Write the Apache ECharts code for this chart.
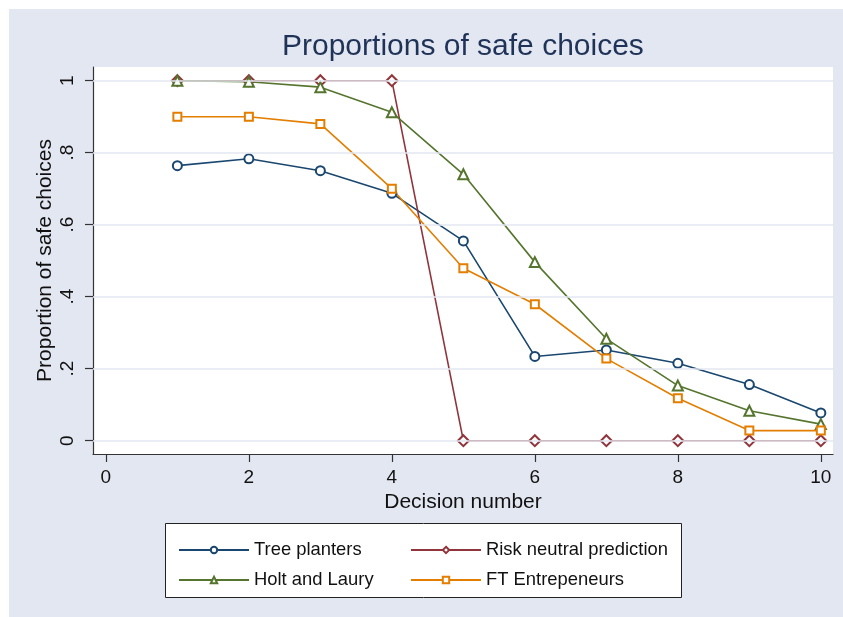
<!DOCTYPE html>
<html><head><meta charset="utf-8">
<script src="https://cdn.jsdelivr.net/npm/echarts@6/dist/echarts.min.js"></script>
<style>html,body{margin:0;padding:0;background:#fff}#c{width:843px;height:617px}</style>
</head><body><div id="c"></div>
<script>
const decisions = [1,2,3,4,5,6,7,8,9,10];
const treePlanters = [0.764,0.783,0.750,0.687,0.555,0.234,0.252,0.215,0.156,0.077];
const riskNeutral = [1,1,1,1,0,0,0,0,0,0];
const holtLaury = [1.0,0.997,0.982,0.912,0.740,0.496,0.283,0.153,0.083,0.046];
const ftEntrepreneurs = [0.90,0.90,0.88,0.70,0.479,0.379,0.228,0.118,0.028,0.028];
const xTicks = [0,2,4,6,8,10];
const yTicks = [0,0.2,0.4,0.6,0.8,1];

const font = '"Liberation Sans", Arial, sans-serif';
const bg = '#e3e7f1';
const pair = arr => decisions.map((d,i)=>[d,arr[i]]);

const chart = echarts.init(document.getElementById('c'), null, {renderer:'canvas'});
function mk(name, data, color, symbol, size){
  return {name, type:'line', data:pair(data), z:3, symbol, symbolSize:size,
    lineStyle:{color, width:1.6}, itemStyle:{color, borderColor:color, borderWidth:1.5},
    showSymbol:true, emphasis:{disabled:true}, animation:false};
}
chart.setOption({
  animation:false,
  backgroundColor:'#fff',
  graphic:[
    {type:'rect', z:-10, shape:{x:9,y:9,width:834,height:608}, style:{fill:bg}},
    {type:'rect', z:-5, shape:{x:165.5,y:523.5,width:516,height:74}, style:{fill:'#fff', stroke:'#222', lineWidth:1}}
  ],
  title:{text:'Proportions of safe choices', left:277, top:27,
    textStyle:{fontFamily:font, fontSize:30, fontWeight:'normal', color:'#1f3358'}},
  grid:{left:93, right:10, top:67, bottom:163, show:true, backgroundColor:'#fff', borderWidth:0},
  xAxis:{type:'value', min:-0.18, max:10.17,
    name:'Decision number', nameLocation:'middle', nameGap:29,
    nameTextStyle:{fontFamily:font, fontSize:21, color:'#111'},
    axisLine:{onZero:false, lineStyle:{color:'#333', width:1.2}},
    axisTick:{customValues:xTicks, length:8, lineStyle:{color:'#333', width:1.2}},
    axisLabel:{customValues:xTicks, fontFamily:font, fontSize:19, color:'#111', margin:14},
    splitLine:{show:false}},
  yAxis:{type:'value', min:-0.037, max:1.038,
    name:'Proportion of safe choices', nameLocation:'middle', nameGap:37, nameMoveOverlap:false,
    nameTextStyle:{fontFamily:font, fontSize:21, color:'#111'},
    axisLine:{show:true, onZero:false, lineStyle:{color:'#333', width:1.2}},
    axisTick:{show:true, customValues:yTicks, length:8, lineStyle:{color:'#333', width:1.2}},
    axisLabel:{customValues:yTicks, rotate:90, fontFamily:font, fontSize:19, color:'#111', margin:16,
      formatter:v=>{ if(Math.abs(v)<1e-9) return '0'; if(Math.abs(v-1)<1e-9) return '1'; return String(Math.round(v*10)/10).replace(/^0/,''); }},
    splitLine:{show:false}},
  legend:[
    {data:['Tree planters','Holt and Laury'], orient:'vertical', left:173, top:535,
      itemWidth:70, itemHeight:8, itemGap:10, textStyle:{fontFamily:font, fontSize:18.4, color:'#111', lineHeight:20}},
    {data:['Risk neutral prediction','FT Entrepeneurs'], orient:'vertical', left:405, top:535,
      itemWidth:70, itemHeight:8, itemGap:10, textStyle:{fontFamily:font, fontSize:18.4, color:'#111', lineHeight:20}}
  ],
  series:[
    {name:'grid', type:'line', data:[], z:1, silent:true,
      markLine:{silent:true, symbol:'none', animation:false, label:{show:false},
        lineStyle:{color:bg, width:1.6, type:'solid'},
        data:yTicks.map(v=>({yAxis:v}))}},
    mk('Tree planters', treePlanters, '#1a476f', 'emptyCircle', 9),
    mk('Risk neutral prediction', riskNeutral, '#90353b', 'emptyDiamond', 11),
    mk('Holt and Laury', holtLaury, '#55752f', 'emptyTriangle', 10),
    mk('FT Entrepeneurs', ftEntrepreneurs, '#e37e00', 'emptyRect', 8)
  ]
});
</script></body></html>
